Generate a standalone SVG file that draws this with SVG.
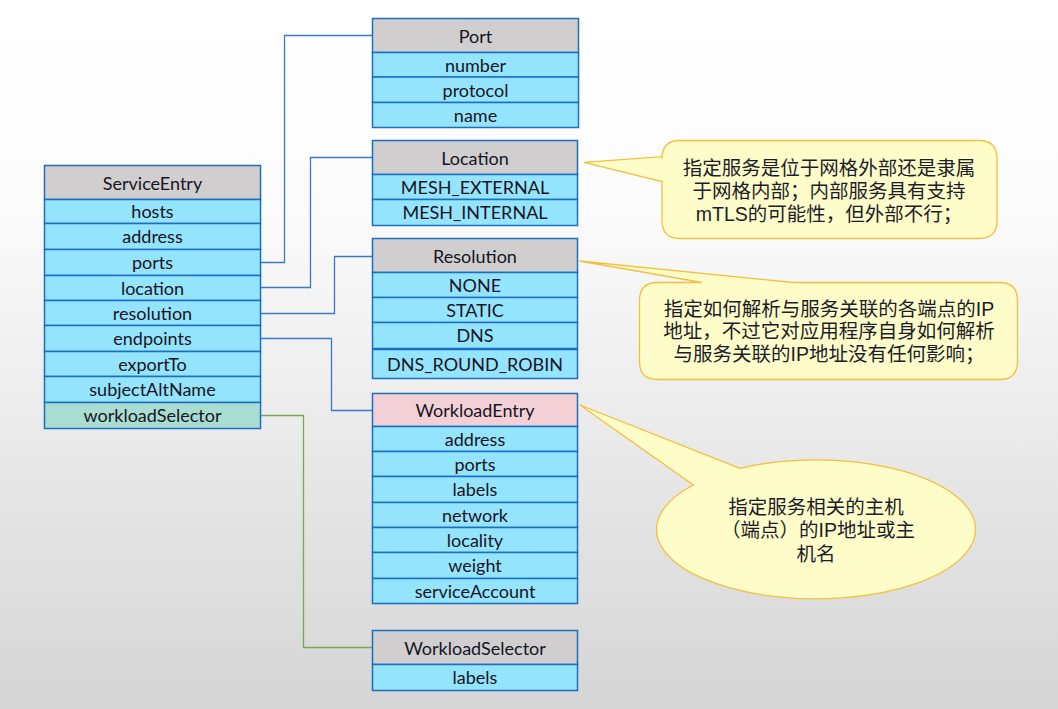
<svg xmlns="http://www.w3.org/2000/svg" width="1058" height="709" viewBox="0 0 1058 709">
  <defs>
    <linearGradient id="bg" x1="0" y1="0" x2="0" y2="1">
      <stop offset="0" stop-color="#ffffff"/>
      <stop offset="0.3" stop-color="#fbfbfb"/>
      <stop offset="1" stop-color="#d5d5d5"/>
    </linearGradient>
    <style>
      .hd { fill: #d0cecf; stroke: #1b6ec0; stroke-width: 1.5; }
      .hd-pink { fill: #f2d0d5; stroke: #1b6ec0; stroke-width: 1.5; }
      .row { fill: #95e4fd; stroke: #1b6ec0; stroke-width: 1.5; }
      .row-teal { fill: #a9ddd2; stroke: #1b6ec0; stroke-width: 1.5; }
      .t { font-family: Lato, "Liberation Sans", sans-serif; font-size: 18px; fill: #15151f; text-anchor: middle; dominant-baseline: central; }
      .link { fill: none; stroke: #3b78c9; stroke-width: 1.3; }
      .link-green { fill: none; stroke: #78a855; stroke-width: 1.3; }
      .note { fill: #fefdc9; stroke: #f2c03e; stroke-width: 1.3; }
      .nt { font-family: "Liberation Sans", "Noto Sans CJK SC", sans-serif; font-size: 19.5px; fill: #1c1c2a; text-anchor: middle; dominant-baseline: central; }
    </style>
  </defs>

  <rect x="0" y="0" width="1058" height="709" fill="url(#bg)"/>

  <!-- connectors -->
  <g id="connectors">
    <path class="link" d="M260 262.5 H284.5 V35.5 H372.5"/>
    <path class="link" d="M260 287.5 H310.5 V157.5 H372.5"/>
    <path class="link" d="M260 313.5 H334.5 V256.5 H372.5"/>
    <path class="link" d="M260 338.5 H331.5 V410.5 H372.5"/>
    <path class="link-green" d="M260 415.5 H303.5 V647.5 H372.5"/>
  </g>

  <!-- ServiceEntry -->
  <g id="serviceentry">
    <rect class="hd" x="44.5" y="165.5" width="216" height="34"/>
    <text class="t" x="152.5" y="182.5">ServiceEntry</text>
    <rect class="row" x="44.5" y="199.5" width="216" height="24"/>
    <text class="t" x="152.5" y="211">hosts</text>
    <rect class="row" x="44.5" y="223.5" width="216" height="26"/>
    <text class="t" x="152.5" y="236">address</text>
    <rect class="row" x="44.5" y="249.5" width="216" height="26"/>
    <text class="t" x="152.5" y="262">ports</text>
    <rect class="row" x="44.5" y="275.5" width="216" height="25"/>
    <text class="t" x="152.5" y="287.5">location</text>
    <rect class="row" x="44.5" y="300.5" width="216" height="25"/>
    <text class="t" x="152.5" y="312.5">resolution</text>
    <rect class="row" x="44.5" y="325.5" width="216" height="26"/>
    <text class="t" x="152.5" y="338">endpoints</text>
    <rect class="row" x="44.5" y="351.5" width="216" height="25"/>
    <text class="t" x="152.5" y="363.5">exportTo</text>
    <rect class="row" x="44.5" y="376.5" width="216" height="26"/>
    <text class="t" x="152.5" y="389">subjectAltName</text>
    <rect class="row-teal" x="44.5" y="402.5" width="216" height="26"/>
    <text class="t" x="152.5" y="415">workloadSelector</text>
  </g>

  <!-- Port -->
  <g id="port">
    <rect class="hd" x="372.5" y="18.5" width="206" height="34"/>
    <text class="t" x="475.5" y="35.5">Port</text>
    <rect class="row" x="372.5" y="52.5" width="206" height="24.5"/>
    <text class="t" x="475.5" y="64.5">number</text>
    <rect class="row" x="372.5" y="77" width="206" height="25.5"/>
    <text class="t" x="475.5" y="89.5">protocol</text>
    <rect class="row" x="372.5" y="102.5" width="206" height="25"/>
    <text class="t" x="475.5" y="114.5">name</text>
  </g>

  <!-- Location -->
  <g id="location">
    <rect class="hd" x="372.5" y="140.5" width="205" height="34"/>
    <text class="t" x="475" y="157.5">Location</text>
    <rect class="row" x="372.5" y="174.5" width="205" height="25"/>
    <text class="t" x="475" y="186.5">MESH_EXTERNAL</text>
    <rect class="row" x="372.5" y="199.5" width="205" height="26"/>
    <text class="t" x="475" y="212">MESH_INTERNAL</text>
  </g>

  <!-- Resolution -->
  <g id="resolution">
    <rect class="hd" x="372.5" y="238.5" width="205" height="34"/>
    <text class="t" x="475" y="255.5">Resolution</text>
    <rect class="row" x="372.5" y="272.5" width="205" height="25"/>
    <text class="t" x="475" y="284.5">NONE</text>
    <rect class="row" x="372.5" y="297.5" width="205" height="25"/>
    <text class="t" x="475" y="309.5">STATIC</text>
    <rect class="row" x="372.5" y="322.5" width="205" height="26"/>
    <text class="t" x="475" y="335">DNS</text>
    <rect class="row" x="372.5" y="349.5" width="205" height="29"/>
    <text class="t" x="475" y="363.5">DNS_ROUND_ROBIN</text>
  </g>

  <!-- WorkloadEntry -->
  <g id="workloadentry">
    <rect class="hd-pink" x="372.5" y="393.5" width="205" height="33"/>
    <text class="t" x="475" y="410">WorkloadEntry</text>
    <rect class="row" x="372.5" y="426.5" width="205" height="25"/>
    <text class="t" x="475" y="438.5">address</text>
    <rect class="row" x="372.5" y="451.5" width="205" height="25"/>
    <text class="t" x="475" y="463.5">ports</text>
    <rect class="row" x="372.5" y="476.5" width="205" height="26"/>
    <text class="t" x="475" y="489">labels</text>
    <rect class="row" x="372.5" y="502.5" width="205" height="25"/>
    <text class="t" x="475" y="514.5">network</text>
    <rect class="row" x="372.5" y="527.5" width="205" height="25"/>
    <text class="t" x="475" y="539.5">locality</text>
    <rect class="row" x="372.5" y="552.5" width="205" height="26"/>
    <text class="t" x="475" y="565">weight</text>
    <rect class="row" x="372.5" y="578.5" width="205" height="25"/>
    <text class="t" x="475" y="590.5">serviceAccount</text>
  </g>

  <!-- WorkloadSelector -->
  <g id="workloadselector">
    <rect class="hd" x="372.5" y="630.5" width="205" height="34"/>
    <text class="t" x="475" y="647.5">WorkloadSelector</text>
    <rect class="row" x="372.5" y="664.5" width="205" height="26"/>
    <text class="t" x="475" y="677">labels</text>
  </g>

  <!-- note on Location -->
  <g id="note-location">
    <path class="note" d="M680 140.5 H979 Q997 140.5 997 158.5 V220.5 Q997 238.5 979 238.5 H680 Q662 238.5 662 220.5 V181.5 L584 162.3 L662 156.7 V158.5 Q662 140.5 680 140.5 Z"/>
    <text class="nt" x="829" y="167.5">指定服务是位于网格外部还是隶属</text>
    <text class="nt" x="829" y="190.8">于网格内部；内部服务具有支持</text>
    <text class="nt" x="829" y="213.8">mTLS的可能性，但外部不行；</text>
  </g>

  <!-- note on Resolution -->
  <g id="note-resolution">
    <path class="note" d="M657.5 282.5 H702 L579.5 261 L793 282.5 H999.5 Q1017.5 282.5 1017.5 300.5 V361.5 Q1017.5 379.5 999.5 379.5 H657.5 Q639.5 379.5 639.5 361.5 V300.5 Q639.5 282.5 657.5 282.5 Z"/>
    <text class="nt" x="829" y="308.5">指定如何解析与服务关联的各端点的IP</text>
    <text class="nt" x="829" y="331">地址，不过它对应用程序自身如何解析</text>
    <text class="nt" x="829" y="353.5">与服务关联的IP地址没有任何影响；</text>
  </g>

  <!-- note on WorkloadEntry -->
  <g id="note-workloadentry">
    <path class="note" d="M740 468.3 L580 405 L693.3 485 A159.5 69.5 0 1 0 740 468.3 Z"/>
    <text class="nt" x="816" y="506.5">指定服务相关的主机</text>
    <text class="nt" x="818" y="530">（端点）的IP地址或主</text>
    <text class="nt" x="816" y="554">机名</text>
  </g>
</svg>
